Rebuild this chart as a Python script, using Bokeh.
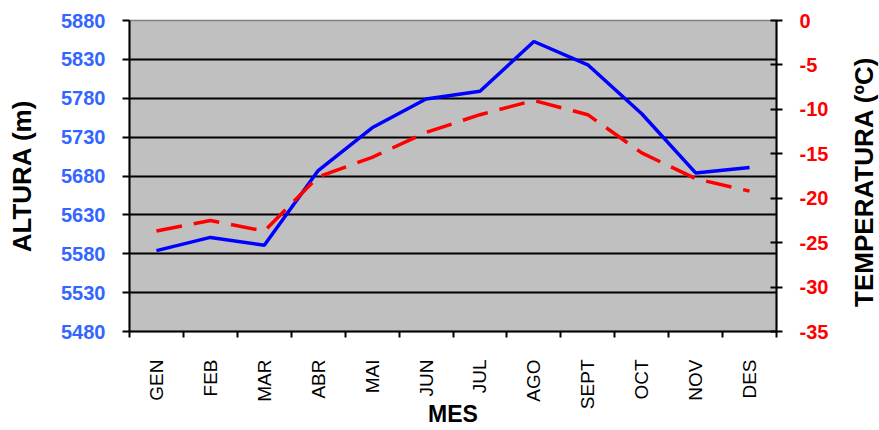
import math
from bokeh.plotting import figure
from bokeh.models import Range1d, LinearAxis, FixedTicker, Label
from bokeh.layouts import row
from bokeh.embed import file_html
from bokeh.resources import INLINE

months = ["GEN", "FEB", "MAR", "ABR", "MAI", "JUN", "JUL", "AGO", "SEPT", "OCT", "NOV", "DES"]
altura = [5584, 5601, 5591, 5687, 5742, 5779, 5789, 5853, 5823, 5760, 5684, 5691]
temperatura = [-23.7, -22.5, -23.7, -17.6, -15.4, -12.6, -10.6, -9.0, -10.6, -14.9, -17.8, -19.2]
alt_ticks = [5480, 5530, 5580, 5630, 5680, 5730, 5780, 5830, 5880]
temp_ticks = [-35, -30, -25, -20, -15, -10, -5, 0]

n = len(months)
xs = [i + 0.5 for i in range(n)]
bounds = list(range(n + 1))

FONT = "Liberation Sans"
TOTAL_W, H = 879, 430
SIDE_W = 34

p = figure(width=TOTAL_W - SIDE_W, height=H, x_range=Range1d(0, n),
           y_range=Range1d(alt_ticks[0], alt_ticks[-1]),
           output_backend="svg", toolbar_location=None,
           min_border_left=129, min_border_right=69, min_border_top=20, min_border_bottom=99)
p.background_fill_color = "#C0C0C0"
p.border_fill_color = "white"
p.outline_line_color = "#808080"
p.outline_line_width = 1.5

p.extra_y_ranges = {"temp": Range1d(temp_ticks[0], temp_ticks[-1])}

# grid
p.xgrid.visible = False
p.ygrid.ticker = FixedTicker(ticks=alt_ticks[1:-1])
p.ygrid.grid_line_color = "black"
p.ygrid.grid_line_width = 2

# x axis
xa = p.xaxis[0]
xa.ticker = FixedTicker(ticks=xs, minor_ticks=bounds)
xa.major_label_overrides = {x: m for x, m in zip(xs, months)}
xa.major_tick_in = 0
xa.major_tick_out = 0
xa.minor_tick_in = 0
xa.minor_tick_out = 6
xa.minor_tick_line_color = "black"
xa.minor_tick_line_width = 2
xa.axis_line_color = "black"
xa.axis_line_width = 2
xa.major_label_orientation = math.pi / 2
xa.major_label_standoff = 22
xa.major_label_text_font = FONT
xa.major_label_text_font_size = "19px"
xa.major_label_text_color = "black"
xa.axis_label = "MES"
xa.axis_label_text_font = FONT
xa.axis_label_text_font_size = "23px"
xa.axis_label_text_font_style = "bold"
xa.axis_label_text_color = "black"
xa.axis_label_standoff = -11

# left axis
ya = p.yaxis[0]
ya.ticker = FixedTicker(ticks=alt_ticks)
ya.major_tick_in = 0
ya.major_tick_out = 7
ya.minor_tick_in = 0
ya.minor_tick_out = 0
ya.major_tick_line_color = "black"
ya.major_tick_line_width = 2
ya.axis_line_color = "black"
ya.axis_line_width = 2
ya.major_label_standoff = 17
ya.major_label_text_font = FONT
ya.major_label_text_font_size = "20px"
ya.major_label_text_font_style = "bold"
ya.major_label_text_color = "#3366FF"
ya.axis_label = "ALTURA (m)"
ya.axis_label_text_font = FONT
ya.axis_label_text_font_size = "26px"
ya.axis_label_text_font_style = "bold"
ya.axis_label_text_color = "black"
ya.axis_label_standoff = 21

# right axis
ra = LinearAxis(y_range_name="temp", ticker=FixedTicker(ticks=temp_ticks))
ra.major_label_overrides = {t: str(t) for t in temp_ticks}
ra.major_tick_in = 6
ra.major_tick_out = 6
ra.minor_tick_in = 0
ra.minor_tick_out = 0
ra.major_tick_line_color = "black"
ra.major_tick_line_width = 2
ra.axis_line_color = "black"
ra.axis_line_width = 2
ra.major_label_standoff = 17
ra.major_label_text_font = FONT
ra.major_label_text_font_size = "20px"
ra.major_label_text_font_style = "bold"
ra.major_label_text_color = "#FF0000"
p.add_layout(ra, "right")

# series
p.line(xs, altura, line_color="#0000FF", line_width=3.5)
p.line(xs, temperatura, y_range_name="temp", line_color="#FF0000", line_width=3.5, line_dash="26 12")

# side strip holding the right-hand axis title (reads bottom to top)
s = figure(width=SIDE_W, height=H, x_range=Range1d(0, SIDE_W), y_range=Range1d(0, H),
           title=None, output_backend="svg", toolbar_location=None,
           x_axis_location=None, y_axis_location=None,
           min_border_left=0, min_border_right=0, min_border_top=0, min_border_bottom=0)
s.xgrid.visible = False
s.ygrid.visible = False
s.outline_line_color = None
s.background_fill_color = "white"
s.border_fill_color = "white"
s.add_layout(Label(x=18, y=207, x_units="data", y_units="data", text="TEMPERATURA (ºC)",
                   angle=math.pi / 2, text_font=FONT, text_font_size="26px", text_font_style="bold",
                   text_color="black", text_align="center", text_baseline="middle"))

layout = row(p, s, spacing=0)
open("out.html", "w").write(file_html(layout, INLINE))
